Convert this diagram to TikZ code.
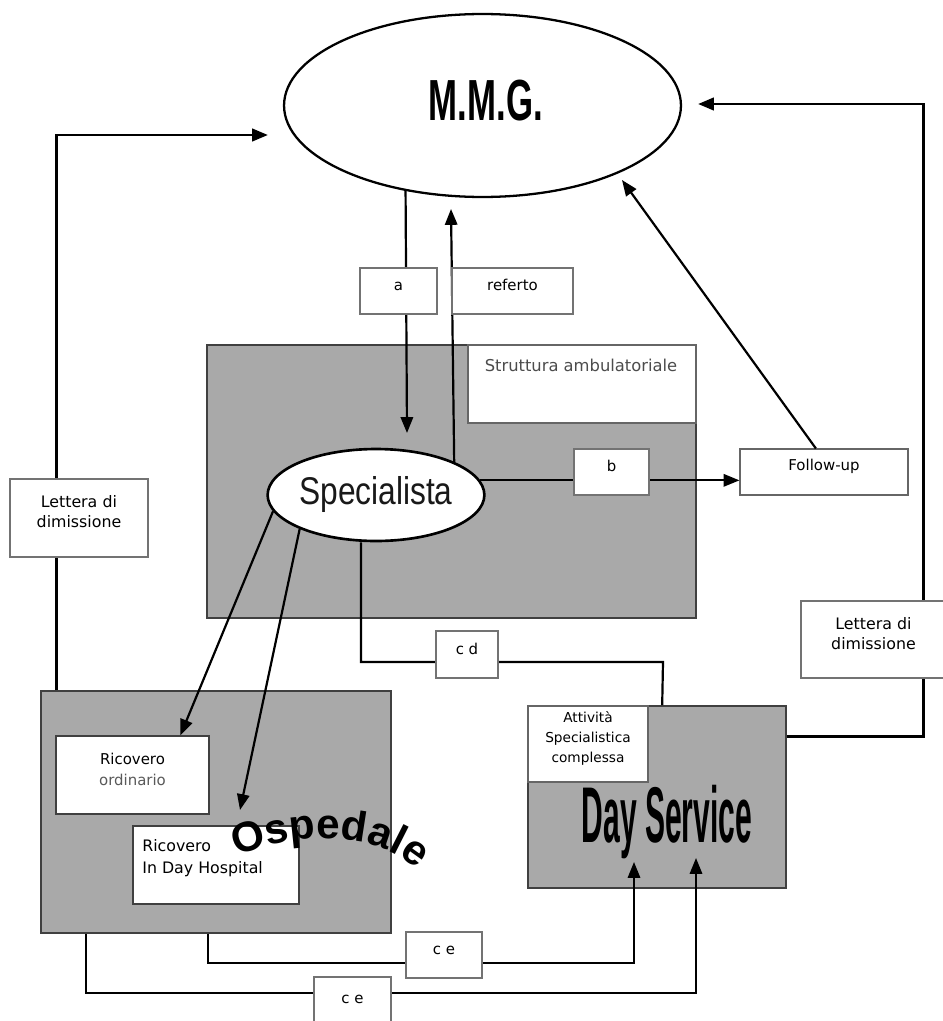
\documentclass[tikz,border=0pt]{standalone}
\usepackage{fontspec}
\usepackage{graphicx}
\setmainfont{DejaVu Sans}
\newfontfamily\heavy{Liberation Sans}
\usetikzlibrary{arrows.meta,fit,decorations.text,shapes.geometric,calc}
\definecolor{bg}{HTML}{A9A9A9}
\newcommand\ospfont{\heavy\bfseries\fontsize{24}{24}\selectfont}
\begin{document}
\begin{tikzpicture}[x=0.02cm,y=0.02cm,
  ln/.style={line width=1.25pt},
  arr/.style={ln,-{Triangle[length=9pt,width=7pt]}},
  thickln/.style={line width=1.7pt},
  tarr/.style={thickln,-{Triangle[length=9pt,width=7pt]}},
  lbl/.style={draw=black!55,line width=0.6pt,fill=white,inner sep=0pt,font=\fontsize{8.5}{10}\selectfont,align=center},
  gbox/.style={draw=black!75,line width=0.9pt,fill=bg,inner sep=0pt},
  wbox/.style={draw=black!75,line width=0.9pt,fill=white,inner sep=0pt},
  txt/.style={font=\fontsize{8.5}{11.5}\selectfont,align=center}
]
\fill[white] (0,0) rectangle (943,-1021);
\useasboundingbox (0,0) rectangle (943,-1021);

% main shapes
\node[draw,ellipse,line width=1.3pt,minimum width=7.94cm,minimum height=3.66cm,inner sep=0pt] (mmg) at (482.5,-105.5) {};
\node[anchor=base,inner sep=0pt] (mmgt) at (486,-120) {\scalebox{0.6}[1]{\heavy\bfseries\fontsize{33}{33}\selectfont M.M.G.}};

\node[gbox,fit={(207,-345) (696,-618)}] (amb) {};
\node[wbox,line width=0.6pt,draw=black!60,fit={(468,-345) (696,-423)}] (ambw) {};
\node[txt,font=\fontsize{9.3}{11}\selectfont,text=black!70] (ambt) at (581,-365) {Struttura ambulatoriale};

\node[draw,ellipse,fill=white,line width=1.5pt,minimum width=4.3cm,minimum height=1.84cm,inner sep=0pt] (spec) at (376,-495)
  {\scalebox{0.82}[1]{\heavy\fontsize{22}{22}\selectfont\color{black!90}Specialista}};

\node[wbox,line width=0.6pt,draw=black!60,fit={(740,-449) (908,-495)},txt] (fu) {Follow-up};

\node[gbox,fit={(41,-691) (391,-933)}] (osp) {};
\node[wbox,fit={(56,-736) (209,-814)},txt] (ro) {Ricovero\\\textcolor{black!65}{ordinario}};
\node[wbox,fit={(133,-826) (299,-904)}] (rdh) {};
\node[txt,font=\fontsize{9}{12.5}\selectfont,align=left,anchor=north west,inner sep=0pt] (rdht) at (142,-839) {Ricovero\\In Day Hospital};
\path[decorate,decoration={text along path,text={|\ospfont|Ospedale},text align=center}]
  (230,-858) .. controls (290,-834) and (372,-824) .. (422,-874);

\node[gbox,fit={(528,-706) (786,-888)}] (ds) {};
\node[wbox,line width=0.6pt,draw=black!60,fit={(528,-706) (648,-782)},font=\fontsize{7.8}{11.5}\selectfont,align=center] (dsw) {Attività\\Specialistica\\complessa};
\node[anchor=base,inner sep=0pt] (dst) at (667,-842) {\scalebox{0.38}[1]{\heavy\bfseries\fontsize{45}{45}\selectfont Day Service}};

% free ends
\coordinate (atip) at (407,-433);
\coordinate (rtip) at (451,-209);
\coordinate (futip) at (622,-180);
\coordinate (ltip) at (268,-135);
\coordinate (rttip) at (698,-104);
\coordinate (dhtip) at (240,-810);
\coordinate (ce1tip) at (634,-862);
\coordinate (ce2tip) at (696,-858);

% connectors
\draw[arr] (mmg.228) -- (atip);
\draw[arr] (spec.23.7) -- (rtip);
\draw[arr] (spec.8.4) -- (spec.8.4 -| fu.west);
\draw[arr] ($(fu.north west)!0.452!(fu.north east)$) -- (futip);
\draw[tarr] ([xshift=0.32cm]osp.north west) |- (ltip);
\draw[tarr] ([yshift=-0.62cm]ds.north east) -| (923,-104) -- (rttip);
\draw[arr] (spec.189) -- ($(ro.north west)!0.81!(ro.north east)$);
\draw[arr] (spec.204) -- (dhtip);
\draw[ln] ([xshift=-0.3cm]spec.south) |- (663,-662) -- ([xshift=2.7cm]ds.north west);
\draw[arr] ([xshift=3.36cm]osp.south west) |- (634,-963) -- (ce1tip);
\draw[arr] ([xshift=0.92cm]osp.south west) |- (696,-993) -- (ce2tip);

% labels
\node[lbl,fit={(360,-268) (437,-314)}] (la) {a};
\node[lbl,fit={(452,-268) (573,-314)}] (lref) {referto};
\node[lbl,fit={(574,-449) (649,-495)}] (lb) {b};
\node[lbl,fit={(436,-631) (498,-678)}] (lcd) {c d};
\node[lbl,fit={(406,-932) (482,-978)}] (lce1) {c e};
\node[lbl,fit={(314,-977) (391,-1030)}] (lce2) {c e};
\node[lbl,fit={(10,-479) (148,-557)},txt,font=\fontsize{9}{11.5}\selectfont] (ld1) {Lettera di\\dimissione};
\node[lbl,fit={(801,-601) (946,-678)},txt,font=\fontsize{9}{11.5}\selectfont] (ld2) {Lettera di\\dimissione};
\end{tikzpicture}
\end{document}
